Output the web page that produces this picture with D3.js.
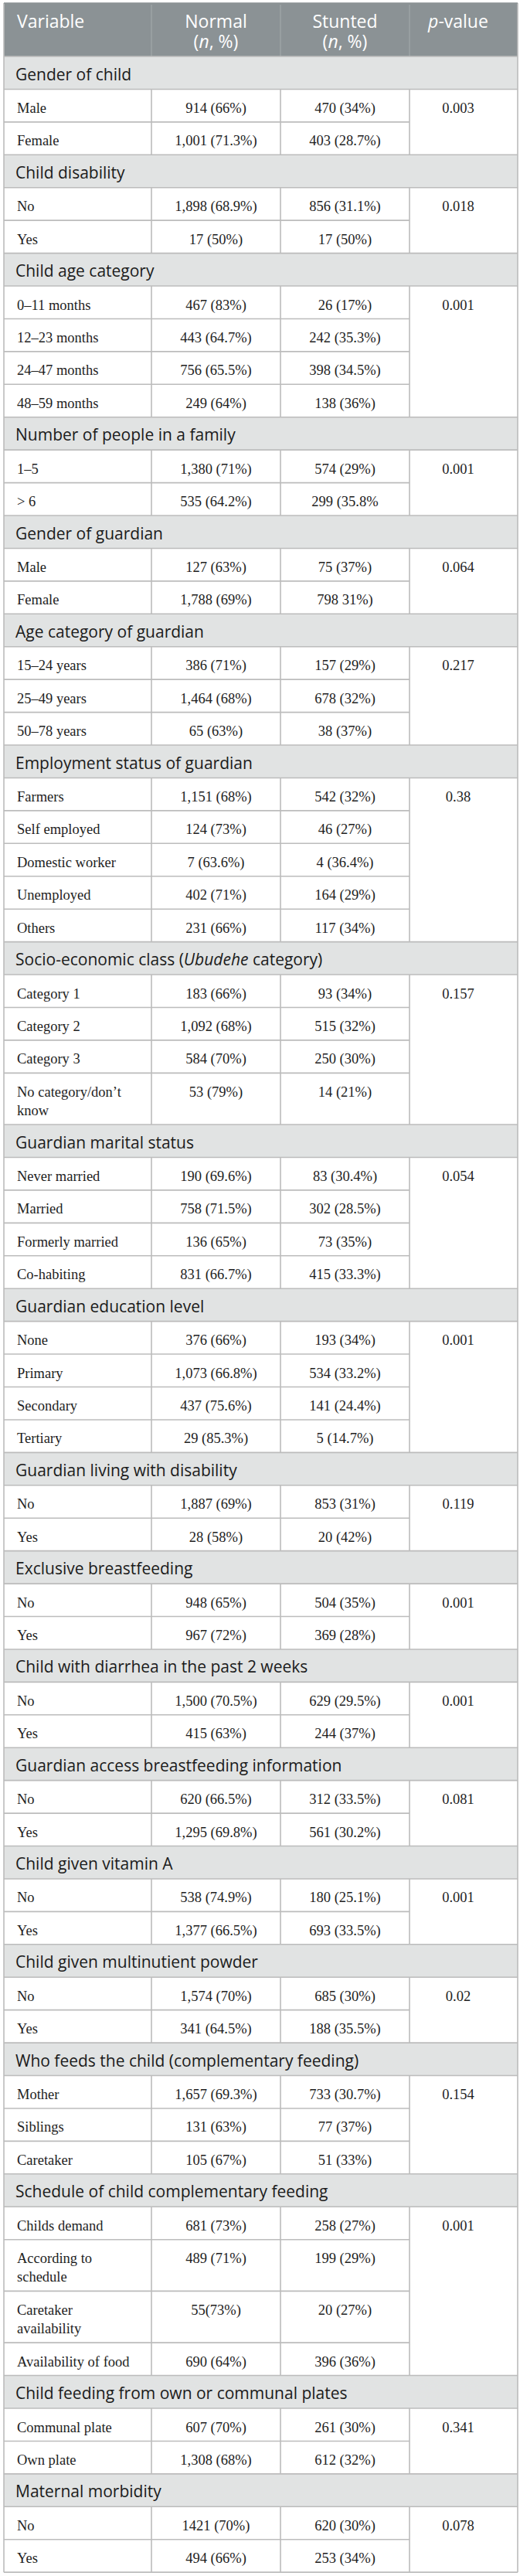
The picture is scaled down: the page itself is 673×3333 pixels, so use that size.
<!DOCTYPE html>
<html>
<head>
<meta charset="utf-8">
<script src="https://cdn.jsdelivr.net/npm/d3@7"></script>
<style>
  html, body { margin: 0; padding: 0; background: #ffffff; }
  svg { display: block; }
</style>
</head>
<body>
<svg id="chart" width="673" height="3333"></svg>
<script>
// ---------------- DATA ----------------
const headerLabels = ["Variable", "Normal", "Stunted", "*p*-value"];
const headerSubLabels = ["", "(*n*, %)", "(*n*, %)", ""];

const groupNames = [
  "Gender of child",
  "Child disability",
  "Child age category",
  "Number of people in a family",
  "Gender of guardian",
  "Age category of guardian",
  "Employment status of guardian",
  "Socio-economic class (*Ubudehe* category)",
  "Guardian marital status",
  "Guardian education level",
  "Guardian living with disability",
  "Exclusive breastfeeding",
  "Child with diarrhea in the past 2 weeks",
  "Guardian access breastfeeding information",
  "Child given vitamin A",
  "Child given multinutient powder",
  "Who feeds the child (complementary feeding)",
  "Schedule of child complementary feeding",
  "Child feeding from own or communal plates",
  "Maternal morbidity"
];

const pValues = ["0.003","0.018","0.001","0.001","0.064","0.217","0.38","0.157","0.054","0.001",
                 "0.119","0.001","0.001","0.081","0.001","0.02","0.154","0.001","0.341","0.078"];

const rowGroup = [0,0, 1,1, 2,2,2,2, 3,3, 4,4, 5,5,5, 6,6,6,6,6, 7,7,7,7, 8,8,8,8, 9,9,9,9,
                  10,10, 11,11, 12,12, 13,13, 14,14, 15,15, 16,16,16, 17,17,17,17, 18,18, 19,19];

const rowLabels = [
  "Male","Female",
  "No","Yes",
  "0–11 months","12–23 months","24–47 months","48–59 months",
  "1–5","> 6",
  "Male","Female",
  "15–24 years","25–49 years","50–78 years",
  "Farmers","Self employed","Domestic worker","Unemployed","Others",
  "Category 1","Category 2","Category 3","No category/don’t\nknow",
  "Never married","Married","Formerly married","Co-habiting",
  "None","Primary","Secondary","Tertiary",
  "No","Yes",
  "No","Yes",
  "No","Yes",
  "No","Yes",
  "No","Yes",
  "No","Yes",
  "Mother","Siblings","Caretaker",
  "Childs demand","According to\nschedule","Caretaker\navailability","Availability of food",
  "Communal plate","Own plate",
  "No","Yes"
];

const normalValues = [
  "914 (66%)","1,001 (71.3%)",
  "1,898 (68.9%)","17 (50%)",
  "467 (83%)","443 (64.7%)","756 (65.5%)","249 (64%)",
  "1,380 (71%)","535 (64.2%)",
  "127 (63%)","1,788 (69%)",
  "386 (71%)","1,464 (68%)","65 (63%)",
  "1,151 (68%)","124 (73%)","7 (63.6%)","402 (71%)","231 (66%)",
  "183 (66%)","1,092 (68%)","584 (70%)","53 (79%)",
  "190 (69.6%)","758 (71.5%)","136 (65%)","831 (66.7%)",
  "376 (66%)","1,073 (66.8%)","437 (75.6%)","29 (85.3%)",
  "1,887 (69%)","28 (58%)",
  "948 (65%)","967 (72%)",
  "1,500 (70.5%)","415 (63%)",
  "620 (66.5%)","1,295 (69.8%)",
  "538 (74.9%)","1,377 (66.5%)",
  "1,574 (70%)","341 (64.5%)",
  "1,657 (69.3%)","131 (63%)","105 (67%)",
  "681 (73%)","489 (71%)","55(73%)","690 (64%)",
  "607 (70%)","1,308 (68%)",
  "1421 (70%)","494 (66%)"
];

const stuntedValues = [
  "470 (34%)","403 (28.7%)",
  "856 (31.1%)","17 (50%)",
  "26 (17%)","242 (35.3%)","398 (34.5%)","138 (36%)",
  "574 (29%)","299 (35.8%",
  "75 (37%)","798 31%)",
  "157 (29%)","678 (32%)","38 (37%)",
  "542 (32%)","46 (27%)","4 (36.4%)","164 (29%)","117 (34%)",
  "93 (34%)","515 (32%)","250 (30%)","14 (21%)",
  "83 (30.4%)","302 (28.5%)","73 (35%)","415 (33.3%)",
  "193 (34%)","534 (33.2%)","141 (24.4%)","5 (14.7%)",
  "853 (31%)","20 (42%)",
  "504 (35%)","369 (28%)",
  "629 (29.5%)","244 (37%)",
  "312 (33.5%)","561 (30.2%)",
  "180 (25.1%)","693 (33.5%)",
  "685 (30%)","188 (35.5%)",
  "733 (30.7%)","77 (37%)","51 (33%)",
  "258 (27%)","199 (29%)","20 (27%)","396 (36%)",
  "261 (30%)","612 (32%)",
  "620 (30%)","253 (34%)"
];

// ---------------- LAYOUT ----------------
const W = 673, H = 3333;
const tableLeft = 5, tableRight = 670;
const headerTop = 4, headerBottom = 73;
const rowH = 42.43, lineStep = 24.3;
const colKeys = ["var", "normal", "stunted", "p"];
const colX = d3.scaleOrdinal().domain(colKeys).range([tableLeft, 196, 363, 530]);
const colCenter = d3.scaleOrdinal().domain(colKeys).range([0, 279.5, 446.5, 593]);

const HEADER_BG = "#8b9295", HEADER_SEP = "#a2a8aa";
const GROUP_BG = "#e1e3e3", LINE = "#bcbcbc";
const SANS = "'Open Sans', 'Noto Sans', sans-serif";
const SERIF = "'Liberation Serif', 'DejaVu Serif', serif";

// Build sequence of rows
const items = [];
groupNames.forEach((g, gi) => {
  items.push({type: "group", gi, label: g, lines: 1});
  rowLabels.forEach((lab, ri) => {
    if (rowGroup[ri] === gi) {
      items.push({type: "data", gi, ri, label: lab, lines: lab.split("\n").length,
                  normal: normalValues[ri], stunted: stuntedValues[ri]});
    }
  });
});
const heights = items.map(d => rowH + (d.lines - 1) * lineStep);
const tops = [headerBottom, ...Array.from(d3.cumsum(heights)).map(v => headerBottom + v)];
items.forEach((d, i) => { d.y0 = tops[i]; d.y1 = tops[i + 1]; });
const tableBottom = tops[tops.length - 1];

const svg = d3.select("#chart");
svg.append("rect").attr("width", W).attr("height", H).attr("fill", "#ffffff");

// Helper: render text with *italic* markup into tspans
function richText(sel, str) {
  const parts = str.split("*");
  parts.forEach((p, i) => {
    if (!p) return;
    sel.append("tspan").attr("font-style", i % 2 ? "italic" : "normal").text(p);
  });
}

// ---------- Header ----------
svg.append("rect").attr("x", tableLeft).attr("y", headerTop)
  .attr("width", tableRight - tableLeft).attr("height", headerBottom - headerTop)
  .attr("fill", HEADER_BG);
["normal", "stunted", "p"].forEach(k => {
  svg.append("line").attr("x1", colX(k)).attr("x2", colX(k))
    .attr("y1", headerTop + 2).attr("y2", headerBottom)
    .attr("stroke", HEADER_SEP).attr("stroke-width", 1.2);
});
colKeys.forEach((k, i) => {
  const t = svg.append("text")
    .attr("x", k === "var" ? 22 : colCenter(k))
    .attr("y", headerTop + 32)
    .attr("text-anchor", k === "var" ? "start" : "middle")
    .attr("font-family", SANS).attr("font-size", 23).attr("fill", "#ffffff");
  richText(t, headerLabels[i]);
  if (headerSubLabels[i]) {
    const s = svg.append("text")
      .attr("x", colCenter(k)).attr("y", headerTop + 58)
      .attr("text-anchor", "middle")
      .attr("font-family", SANS).attr("font-size", 23).attr("fill", "#ffffff");
    richText(s, headerSubLabels[i]);
  }
});

// ---------- Group rows ----------
const groups = items.filter(d => d.type === "group");
svg.selectAll("rect.group").data(groups).join("rect")
  .attr("class", "group")
  .attr("x", tableLeft).attr("y", d => d.y0)
  .attr("width", tableRight - tableLeft).attr("height", d => d.y1 - d.y0)
  .attr("fill", GROUP_BG);

groups.forEach(d => {
  const t = svg.append("text")
    .attr("x", 20).attr("y", d.y0 + 30.5)
    .attr("font-family", SANS).attr("font-size", 21).attr("fill", "#1b1b1b");
  richText(t, d.label);
});

// ---------- Data rows ----------
const dataRows = items.filter(d => d.type === "data");
const lineG = svg.append("g").attr("stroke", LINE).attr("stroke-width", 1.6);

// horizontal lines above each group row (full width) and below each group row
groups.forEach(d => {
  lineG.append("line").attr("x1", tableLeft).attr("x2", tableRight).attr("y1", d.y0).attr("y2", d.y0);
  lineG.append("line").attr("x1", tableLeft).attr("x2", tableRight).attr("y1", d.y1).attr("y2", d.y1);
});
// inner horizontal lines between data rows (not through p-value column)
dataRows.forEach((d, i) => {
  const next = dataRows[i + 1];
  if (next && next.gi === d.gi) {
    lineG.append("line").attr("x1", tableLeft).attr("x2", colX("p"))
      .attr("y1", d.y1).attr("y2", d.y1);
  }
});
// vertical column separators per group block
groupNames.forEach((g, gi) => {
  const rows = dataRows.filter(d => d.gi === gi);
  const y0 = rows[0].y0, y1 = rows[rows.length - 1].y1;
  ["normal", "stunted", "p"].forEach(k => {
    lineG.append("line").attr("x1", colX(k)).attr("x2", colX(k)).attr("y1", y0).attr("y2", y1);
  });
});
// outer border
lineG.append("line").attr("x1", tableLeft).attr("x2", tableLeft).attr("y1", headerTop).attr("y2", tableBottom);
lineG.append("line").attr("x1", tableRight).attr("x2", tableRight).attr("y1", headerTop).attr("y2", tableBottom);
lineG.append("line").attr("x1", tableLeft).attr("x2", tableRight).attr("y1", tableBottom).attr("y2", tableBottom);
lineG.append("line").attr("x1", tableLeft).attr("x2", tableRight).attr("y1", headerTop).attr("y2", headerTop)
  .attr("stroke", HEADER_BG);

const textG = svg.append("g").attr("font-family", SERIF).attr("font-size", 18.5).attr("fill", "#1e1e1e");
dataRows.forEach(d => {
  const base = d.y0 + 30.5;
  const t = textG.append("text").attr("x", 22).attr("y", base);
  d.label.split("\n").forEach((ln, i) => {
    t.append("tspan").attr("x", 22).attr("dy", i === 0 ? 0 : lineStep).text(ln);
  });
  textG.append("text").attr("x", colCenter("normal")).attr("y", base)
    .attr("text-anchor", "middle").text(d.normal);
  textG.append("text").attr("x", colCenter("stunted")).attr("y", base)
    .attr("text-anchor", "middle").text(d.stunted);
});
// p-values in first row of each group
groupNames.forEach((g, gi) => {
  const first = dataRows.find(d => d.gi === gi);
  textG.append("text").attr("x", colCenter("p")).attr("y", first.y0 + 30.5)
    .attr("text-anchor", "middle").text(pValues[gi]);
});
</script>
</body>
</html>
